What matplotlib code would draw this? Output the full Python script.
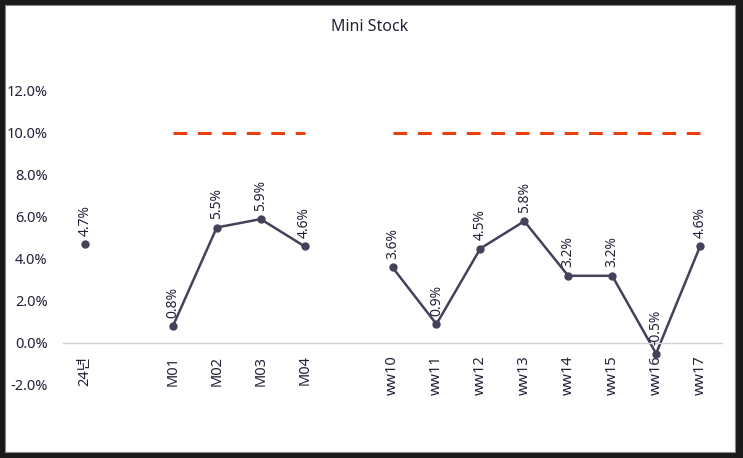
import numpy as np
import matplotlib
matplotlib.use("Agg")
import matplotlib.pyplot as plt
from matplotlib.patches import Rectangle

plt.rcParams['font.family'] = ['Noto Sans', 'Noto Sans CJK KR', 'DejaVu Sans']

# Categories (empty strings are the gaps between groups)
categories = ["24년", "", "M01", "M02", "M03", "M04", "",
              "ww10", "ww11", "ww12", "ww13", "ww14", "ww15", "ww16", "ww17"]
values = [4.7, np.nan, 0.8, 5.5, 5.9, 4.6, np.nan,
          3.6, 0.9, 4.5, 5.8, 3.2, 3.2, -0.5, 4.6]
target = [np.nan, np.nan, 10, 10, 10, 10, np.nan,
          10, 10, 10, 10, 10, 10, 10, 10]
y_ticks = [-2, 0, 2, 4, 6, 8, 10, 12]

LINE_COLOR = "#44425A"
TARGET_COLOR = "#E8400C"
TEXT_COLOR = "#222238"

W, H = 743, 458
fig = plt.figure(figsize=(W / 100, H / 100), dpi=100)
fig.patch.set_facecolor("#1a1a1a")
fig.add_artist(Rectangle((5 / W, 6 / H), (735 - 5) / W, (452 - 5) / H,
                         transform=fig.transFigure, facecolor="white",
                         edgecolor="#888888", linewidth=0.8, zorder=0))

ax = fig.add_axes([63 / W, 1 - 385 / H, (722 - 63) / W, (385 - 91) / H])
ax.set_facecolor("none")

# axis line sits at 0% (do this before styling ticks, it resets them)
for s in ["top", "right", "left"]:
    ax.spines[s].set_visible(False)
ax.spines["bottom"].set_position(("data", 0))
ax.spines["bottom"].set_color("#D0D0D8")
ax.spines["bottom"].set_linewidth(1.0)

x = np.arange(len(categories))
ax.plot(x, target, color=TARGET_COLOR, linewidth=2.2, dashes=(4.5, 3.5),
        solid_capstyle="butt", dash_capstyle="butt")
ax.plot(x, values, color=LINE_COLOR, linewidth=1.8, marker="o", markersize=5)

for xi, v in zip(x, values):
    if np.isnan(v):
        continue
    ax.annotate(f"{v:.1f}%", (xi, v), xytext=(0, 6), textcoords="offset points",
                rotation=90, ha="center", va="bottom", fontsize=10,
                color=TEXT_COLOR)

ax.set_xlim(-0.5, len(categories) - 0.5)
ax.set_ylim(-2, 12)
ax.set_yticks(y_ticks)
ax.set_yticklabels([f"{t:.1f}%" for t in y_ticks])
ax.set_xticks(x)
ax.set_xticklabels(categories)

ax.tick_params(axis="y", length=0, pad=11, labelsize=10.5, labelcolor=TEXT_COLOR)
ax.tick_params(axis="x", length=0, pad=9, labelsize=10.5, labelcolor=TEXT_COLOR,
               labelrotation=90)

fig.text(370 / W, 1 - 27 / H, "Mini Stock", ha="center", va="center",
         fontsize=11.5, color=TEXT_COLOR)

fig.savefig("out.png", dpi=100, facecolor=fig.get_facecolor())
